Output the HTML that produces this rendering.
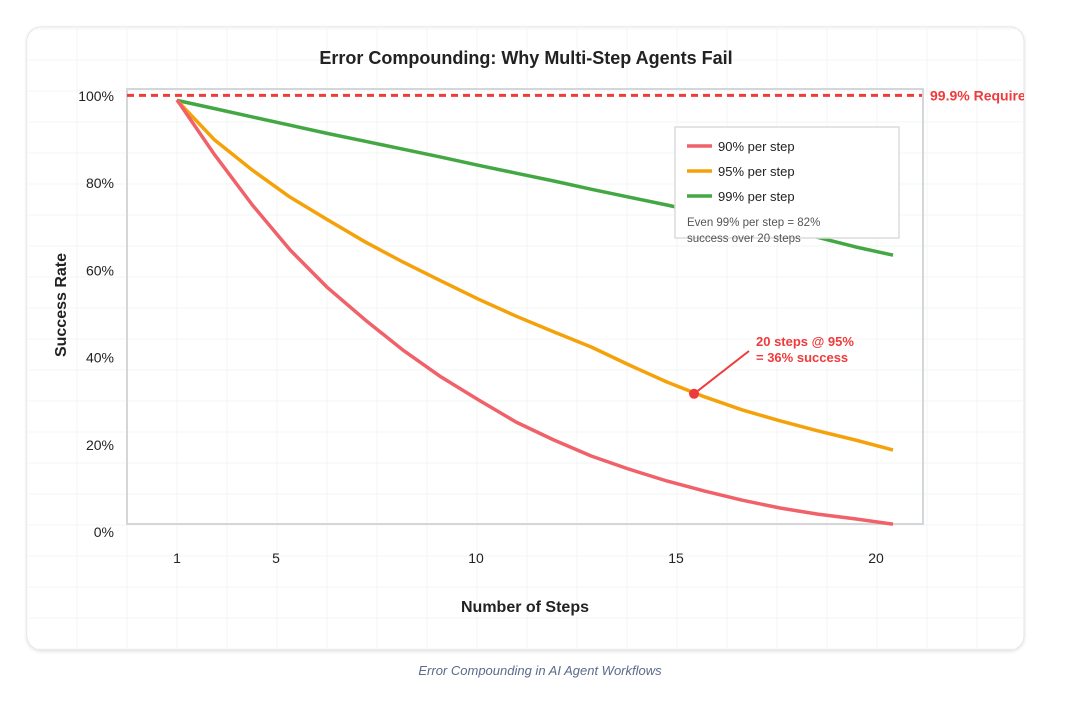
<!DOCTYPE html>
<html><head><meta charset="utf-8"><style>
body{margin:0;background:#fff;width:1080px;height:705px;overflow:hidden;font-family:"Liberation Sans",sans-serif}
svg{display:block}
</style></head><body>
<svg id="chart" width="1080" height="705">
<defs>
<clipPath id="cardclip"><rect x="27" y="27" width="997" height="623" rx="14"/></clipPath>
<filter id="sh" x="-5%" y="-5%" width="110%" height="110%"><feDropShadow dx="0" dy="1" stdDeviation="1.5" flood-color="#000" flood-opacity="0.12"/></filter>
</defs>
<rect x="27" y="27" width="997" height="623" rx="14" fill="#fff" stroke="#e3e5e8" filter="url(#sh)"/>
<g id="grid" clip-path="url(#cardclip)"></g>
<g id="plot" clip-path="url(#cardclip)"></g>
<text x="526" y="64" text-anchor="middle" font-size="18" font-weight="bold" fill="#222">Error Compounding: Why Multi-Step Agents Fail</text>
<text x="0" y="0" transform="translate(66,305) rotate(-90)" text-anchor="middle" font-size="16" font-weight="bold" fill="#222">Success Rate</text>
<text x="525" y="612" text-anchor="middle" font-size="16" font-weight="bold" fill="#222">Number of Steps</text>
<text x="540" y="675" text-anchor="middle" font-size="13" font-style="italic" fill="#5a6b8c">Error Compounding in AI Agent Workflows</text>
</svg>
<script>
const steps=[1,2,3,4,5,6,7,8,9,10,11,12,13,14,15,16,17,18,19,20];
const red90=[99.1,86.5,75.0,64.7,56.0,48.6,41.7,35.6,30.3,25.2,21.1,17.4,14.4,11.7,9.4,7.3,5.5,4.1,3.0,1.8];
const orange95=[99.0,89.9,83.0,76.8,71.6,66.5,61.9,57.6,53.4,49.5,45.9,42.4,38.3,34.4,31.0,28.0,25.5,23.2,21.1,18.8];
const green99=[99.0,97.1,95.2,93.3,91.4,89.6,87.8,86.0,84.1,82.3,80.5,78.6,76.8,75.0,73.1,71.3,69.5,67.6,65.4,63.5];
const yTicks=[0,20,40,60,80,100];
const xTicks=[1,5,10,15,20];
const markerStep=14.72, markerValue=31.7;
const requiredLevel=99.9;

const NS="http://www.w3.org/2000/svg";
const svg=document.getElementById('chart');
const grid=document.getElementById('grid');
const plot=document.getElementById('plot');
function mk(tag,attrs,parent){const e=document.createElementNS(NS,tag);for(const k in attrs)e.setAttribute(k,attrs[k]);(parent||svg).appendChild(e);return e;}
const x=v=>177+(v-1)*(893-177)/19;
const xt=v=>v===1?177:76+40*v;
const y=v=>532-v*4.36;

for(let gx=27;gx<1030;gx+=50){mk('line',{x1:gx,y1:27,x2:gx,y2:650,stroke:'#f3f4f6','stroke-width':1},grid);}
for(let gy=29;gy<655;gy+=31){mk('line',{x1:27,y1:gy,x2:1024,y2:gy,stroke:'#f3f4f6','stroke-width':1},grid);}

const frame=mk('rect',{x:127,y:89,width:796,height:435,fill:'none',stroke:'#d4d6d9','stroke-width':2},plot);



yTicks.forEach(t=>{const e=mk('text',{x:114,y:y(t)+5,'text-anchor':'end','font-size':14,fill:'#222'});e.textContent=t+'%';

});
xTicks.forEach(t=>{const e=mk('text',{x:xt(t),y:563,'text-anchor':'middle','font-size':14,fill:'#222'});e.textContent=t;

});

const req=mk('line',{x1:127,y1:y(requiredLevel)-1,x2:922,y2:y(requiredLevel)-1,stroke:'#ef3b3b','stroke-width':3,'stroke-dasharray':'7 5'},plot);


const rl=mk('text',{x:930,y:y(requiredLevel)+4,'font-size':14,'font-weight':'bold',fill:'#ef3b3b'},plot);rl.textContent='99.9% Required';



function series(vals,color,name){const p=mk('polyline',{points:vals.map((v,i)=>x(steps[i])+','+y(v)).join(' '),fill:'none',stroke:color,'stroke-width':3.5,'stroke-linejoin':'round'},plot);

}
series(green99,'#43a843','line-99-percent');
series(orange95,'#f5a20a','line-95-percent');
series(red90,'#f0616a','line-90-percent');

const al=mk('line',{x1:x(markerStep),y1:y(markerValue),x2:749,y2:351,stroke:'#ef3b3b','stroke-width':2});


const mc=mk('circle',{cx:x(markerStep),cy:y(markerValue),r:5,fill:'#ef3b3b'});


const a1=mk('text',{x:756,y:346,'font-size':13,'font-weight':'bold',fill:'#ef3b3b'});a1.textContent='20 steps @ 95%';


const a2=mk('text',{x:756,y:362,'font-size':13,'font-weight':'bold',fill:'#ef3b3b'});a2.textContent='= 36% success';



const lg=mk('g',{});


mk('rect',{x:675,y:127,width:224,height:111,fill:'#fff',stroke:'#dcdcdc','stroke-width':1.5},lg);
[['90% per step','#f0616a'],['95% per step','#f5a20a'],['99% per step','#43a843']].forEach((d,i)=>{
 const yy=146+i*25;
 mk('line',{x1:687,y1:yy,x2:712,y2:yy,stroke:d[1],'stroke-width':3.5},lg);
 const t=mk('text',{x:718,y:yy+5,'font-size':13,fill:'#222'},lg);t.textContent=d[0];
 
 
});
const n1=mk('text',{x:687,y:226,'font-size':11.5,fill:'#555'},lg);n1.textContent='Even 99% per step = 82%';
const n2=mk('text',{x:687,y:242,'font-size':11.5,fill:'#555'},lg);n2.textContent='success over 20 steps';


</script>
</body></html>
